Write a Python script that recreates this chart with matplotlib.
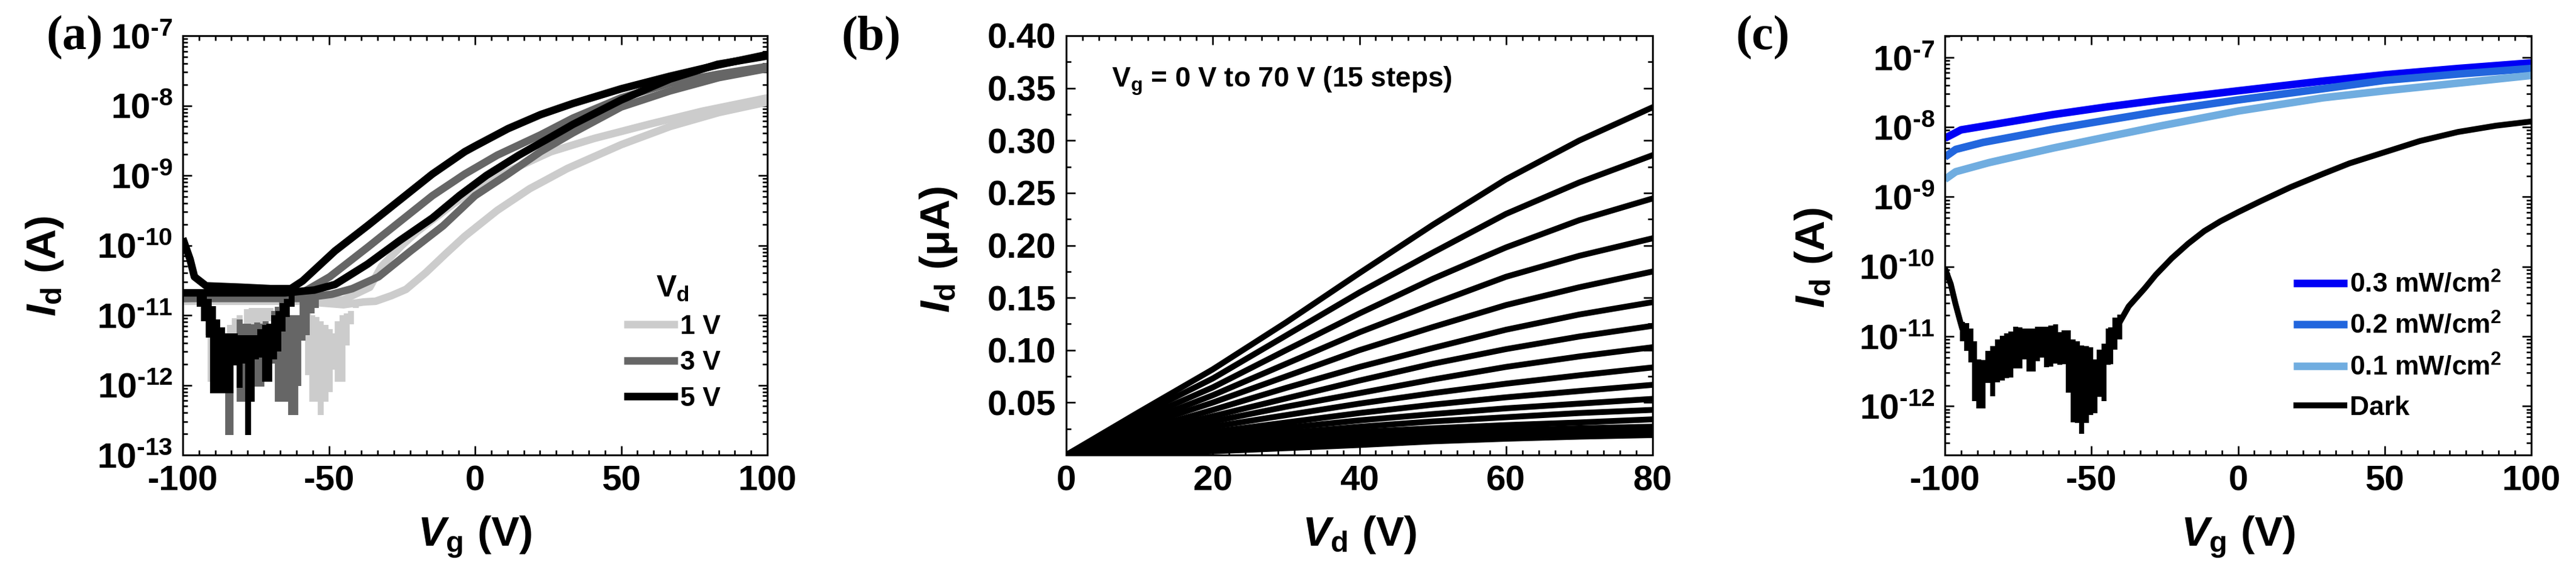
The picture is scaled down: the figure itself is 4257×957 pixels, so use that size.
import matplotlib
matplotlib.use('Agg')
import matplotlib.pyplot as plt
import numpy as np
from matplotlib.ticker import AutoMinorLocator, LogLocator, NullFormatter

plt.rcParams['font.family'] = ['Liberation Sans', 'DejaVu Sans']
plt.rcParams['font.weight'] = 'bold'
plt.rcParams['mathtext.fontset'] = 'custom'
plt.rcParams['mathtext.rm'] = 'Liberation Sans:bold'
plt.rcParams['mathtext.bf'] = 'Liberation Sans:bold'
plt.rcParams['mathtext.it'] = 'Liberation Sans:italic:bold'
plt.rcParams['mathtext.default'] = 'rm'

W, H = 4257, 957

# panel (a), log10(Id), two sweeps per Vd
vg_1v_a = [-100, -60, -45, -38, -34, -28.6, -23.6, -16.8, -10, -3.5, 7.6, 18.7, 31.6, 50, 66.7, 83.4, 100]
id_1v_a = [-10.8, -10.8, -10.85, -10.81, -10.8, -10.72, -10.63, -10.39, -10.12, -9.87, -9.5, -9.19, -8.9, -8.56, -8.3, -8.1, -7.95]
vg_1v_b = [-100, -60, -45, -36, -32, -25, -19.7, -7.2, 3.9, 15, 26, 40.8, 59.3, 77.8, 100]
id_1v_b = [-10.8, -10.78, -10.78, -10.6, -10.3, -10.0, -9.8, -9.4, -9.08, -8.87, -8.66, -8.47, -8.27, -8.08, -7.89]

vg_3v_a = [-100, -60, -49, -42, -33, -22, -10.9, 0, 11.3, 22.4, 33.5, 50, 66.7, 83.4, 100]
id_3v_a = [-10.76, -10.76, -10.7, -10.62, -10.45, -10.08, -9.72, -9.29, -8.98, -8.66, -8.39, -8.02, -7.79, -7.6, -7.47]
vg_3v_b = [-100, -60, -49.7, -36.8, -25.7, -14.6, -3.5, 7.6, 22.4, 33.5, 50, 66.7, 83.4, 100]
id_3v_b = [-10.76, -10.7, -10.45, -10.03, -9.66, -9.29, -8.98, -8.71, -8.42, -8.18, -7.89, -7.68, -7.55, -7.44]

vg_5v_a = [-100, -65, -55, -47.9, -36.8, -25.7, -14.6, -5.4, 3.9, 15, 26, 33.5, 50, 66.7, 83, 100]
id_5v_a = [-10.68, -10.68, -10.64, -10.56, -10.27, -9.93, -9.61, -9.29, -9.0, -8.71, -8.45, -8.27, -7.92, -7.62, -7.41, -7.29]
vg_5v_b = [-100, -97.5, -96, -92, -80, -70, -63, -59, -47.9, -36.8, -25.7, -14.6, -3.5, 0, 11.3, 22.4, 33.5, 50, 66.7, 83, 100]
id_5v_b = [-9.9, -10.2, -10.45, -10.58, -10.6, -10.62, -10.62, -10.51, -10.08, -9.72, -9.35, -8.98, -8.66, -8.58, -8.33, -8.13, -7.97, -7.76, -7.58, -7.42, -7.27]

# noise in the off state: top and bottom of each burst, log10(Id)
burst_1v_x = [-91.4, -90.4, -83.9, -82.2, -80.5, -78.1, -76.4, -75, -73.3, -71.6, -69.9, -57.2, -55.7, -54.2, -52.7, -51.2, -49.7, -48.6, -46.9, -45.4, -43.8, -42.5, -40.8]
burst_1v_hi = [-10.94, -11.23, -11.14, -11.04, -11, -10.91, -10.9, -10.9, -10.9, -10.9, -10.9, -10.97, -11, -11.03, -11.09, -11.14, -11.2, -11.26, -11.09, -11, -10.97, -10.94, -10.8]
burst_1v_lo = [-11.29, -11.95, -11.26, -11.26, -11.23, -11.14, -11.14, -11.14, -11.14, -11.12, -11.09, -11.86, -12.24, -12.24, -12.43, -12.24, -12.1, -11.78, -11.95, -11.95, -11.43, -11.13, -10.9]

burst_3v_x = [-84.5, -83.6, -80.6, -79.1, -77.6, -76.1, -74.6, -73.1, -71.6, -68.8, -67.5, -66, -64.5, -62.9, -61.4, -60.5, -59, -57.5, -56, -54.5]
burst_3v_hi = [-12.07, -12.07, -11.06, -11.12, -11.12, -11.13, -11.1, -11.12, -11.09, -10.94, -10.88, -10.8, -10.78, -11.0, -11.0, -11.0, -10.8, -10.77, -10.74, -10.74]
burst_3v_lo = [-12.71, -12.71, -12.24, -12.24, -11.4, -11.43, -12.02, -12.02, -11.63, -11.69, -12.24, -12.24, -12.24, -12.43, -12.43, -12.01, -11.36, -11.29, -10.97, -10.9]

burst_5v_x = [-94.2, -92.7, -91.2, -89.7, -88.2, -86.6, -85.1, -83.6, -82.1, -80.6, -79.1, -77.7, -76.4, -74.9, -73.4, -71.8, -70.3, -68.8, -67.3, -65.8, -64.3, -62.8]
burst_5v_hi = [-10.65, -10.71, -10.77, -10.87, -11.06, -11.17, -11.26, -11.26, -11.26, -11.29, -11.29, -11.29, -11.29, -11.29, -11.2, -11.14, -11.12, -11.0, -10.94, -10.83, -10.77, -10.71]
burst_5v_lo = [-10.88, -11.09, -11.32, -12.12, -12.12, -12.12, -12.12, -12.12, -11.72, -12.04, -11.69, -12.71, -12.24, -11.63, -11.61, -11.95, -11.95, -11.63, -11.52, -11.23, -11.03, -10.88]

ticks_a_x = [-100, -50, 0, 50, 100]
labels_a_x = ['-100', '-50', '0', '50', '100']
exps_a = [-13, -12, -11, -10, -9, -8, -7]

# panel (b), one row per gate step, top curve first
vd_b = [0, 10, 20, 30, 40, 50, 60, 70, 80]
id_steps = [
    [0, .0412, .0817, .1265, .1735, .2195, .263, .300, .3317],
    [0, .038, .073, .114, .155, .193, .230, .260, .286],
    [0, .034, .0645, .100, .135, .168, .198, .224, .2447],
    [0, .030, .057, .087, .117, .144, .170, .190, .2067],
    [0, .027, .050, .075, .100, .122, .143, .160, .175],
    [0, .023, .043, .064, .084, .102, .1195, .134, .1458],
    [0, .020, .037, .054, .071, .087, .101, .113, .1232],
    [0, .017, .032, .046, .059, .072, .084, .094, .1028],
    [0, .0145, .027, .038, .049, .059, .068, .076, .0835],
    [0, .012, .022, .031, .040, .048, .055, .061, .0669],
    [0, .010, .018, .026, .033, .039, .0445, .049, .0535],
    [0, .008, .0145, .021, .027, .032, .036, .040, .043],
    [0, .006, .011, .017, .022, .0255, .0285, .031, .034],
    [0, .0045, .008, .013, .0175, .021, .0235, .0255, .027],
    [0, .003, .0055, .0095, .0135, .017, .0195, .021, .0225],
    [0, .0018, .0035, .0065, .0095, .013, .0155, .0175, .019],
]
ticks_b_x = [0, 20, 40, 60, 80]
ticks_b_y = [0.05, 0.10, 0.15, 0.20, 0.25, 0.30, 0.35, 0.40]
labels_b_y = ['0.05', '0.10', '0.15', '0.20', '0.25', '0.30', '0.35', '0.40']

# panel (c)
vg_p3 = [-100, -94.5, -81.6, -63, -44.7, -26.3, 0, 29, 50, 75, 100]
id_p3 = [-8.16, -8.04, -7.95, -7.82, -7.71, -7.61, -7.48, -7.34, -7.25, -7.16, -7.08]
vg_p2 = [-100, -96.3, -87, -63, -44.7, -26, 0, 29, 50, 75, 100]
id_p2 = [-8.43, -8.32, -8.22, -8.03, -7.9, -7.77, -7.61, -7.45, -7.33, -7.24, -7.16]
vg_p1 = [-100, -96.3, -85, -63, -44.7, -26, 0, 29, 50, 75, 100]
id_p1 = [-8.75, -8.64, -8.51, -8.3, -8.14, -7.98, -7.77, -7.58, -7.48, -7.37, -7.26]
vg_dark_left = [-100, -98, -96.4, -95, -94]
id_dark_left = [-10.02, -10.25, -10.53, -10.75, -10.9]
vg_dark = [-40.4, -37.3, -31.8, -28.1, -22.6, -17, -11.5, -6, 0, 7.8, 18, 29, 38, 50, 62, 75, 88, 100]
id_dark = [-10.8, -10.57, -10.31, -10.12, -9.88, -9.67, -9.49, -9.35, -9.22, -9.06, -8.86, -8.67, -8.52, -8.36, -8.2, -8.07, -7.98, -7.92]
burst_dark_x = [-94, -92.6, -91.1, -89.9, -88.4, -87, -85.4, -83.6, -82, -80.4, -78.9, -77.4, -75.9, -74.4, -72.9, -71.4, -69.9, -68.4, -66.8, -65.3, -63.8, -62.3, -60.8, -59.3, -57.8, -56.3, -54.8, -53.3, -51.8, -50.3, -48.8, -47.3, -45.8, -44.2, -43.4, -41.9, -40.4]
burst_dark_hi = [-10.79, -10.81, -10.89, -11.07, -11.33, -11.34, -11.21, -11.14, -11.04, -10.99, -10.96, -10.93, -10.86, -10.87, -10.89, -10.89, -10.89, -10.86, -10.86, -10.86, -10.84, -10.83, -10.94, -10.91, -10.91, -11.04, -11.07, -11.13, -11.14, -11.16, -11.33, -11.19, -11.1, -10.89, -10.87, -10.73, -10.69]
burst_dark_lo = [-11.07, -11.21, -11.37, -11.93, -12.03, -12.03, -11.67, -11.86, -11.66, -11.63, -11.6, -11.59, -11.46, -11.46, -11.33, -11.5, -11.5, -11.36, -11.3, -11.44, -11.43, -11.39, -11.41, -11.4, -11.81, -12.23, -12.24, -12.4, -12.24, -12.13, -12.1, -11.87, -11.93, -11.41, -11.4, -11.19, -11.04]
labels_c = ['0.3 mW/cm$^{2}$', '0.2 mW/cm$^{2}$', '0.1 mW/cm$^{2}$', 'Dark']
colors_c = ['#0000f5', '#2266dd', '#70ade0', '#000000']
exps_c = [-12, -11, -10, -9, -8, -7]


def add_panel(x0, x1, y0=59, y1=752):
    return fig.add_axes([x0 / W, 1 - y1 / H, (x1 - x0) / W, (y1 - y0) / H])


def style_ticks(ax):
    ax.tick_params(which='both', direction='in', top=True, right=True, width=1.9)
    ax.tick_params(which='major', length=11, labelsize=42, pad=12)
    ax.tick_params(which='minor', length=5.5)
    for s in ax.spines.values():
        s.set_linewidth(2.2)


def set_log_y(ax, exps, ylim):
    ax.set_yscale('log')
    ax.set_ylim(ylim)
    ax.set_yticks([10.0 ** e for e in exps], labels=[r'$10^{\text{-%d}}$' % abs(e) for e in exps])
    ax.yaxis.set_minor_locator(LogLocator(base=10, subs=np.arange(2, 10), numticks=20))
    ax.yaxis.set_minor_formatter(NullFormatter())


def curve(ax, x, log_y, color, lw, label=None):
    ax.plot(x, 10.0 ** np.array(log_y), color=color, lw=lw, label=label, solid_joinstyle='round', solid_capstyle='butt')


def burst(ax, x, hi, lo, color, lw):
    ax.vlines(x, 10.0 ** np.array(lo), 10.0 ** np.array(hi), color=color, lw=lw)


fig = plt.figure(figsize=(W / 100, H / 100), dpi=100)

# (a)
ax = add_panel(302, 1268)
burst(ax, burst_1v_x, burst_1v_hi, burst_1v_lo, '#cccccc', 7)
curve(ax, vg_1v_a, id_1v_a, '#cccccc', 9)
curve(ax, vg_1v_b, id_1v_b, '#cccccc', 9, '1 V')
burst(ax, burst_3v_x, burst_3v_hi, burst_3v_lo, '#666666', 7)
curve(ax, vg_3v_a, id_3v_a, '#666666', 9)
curve(ax, vg_3v_b, id_3v_b, '#666666', 9, '3 V')
burst(ax, burst_5v_x, burst_5v_hi, burst_5v_lo, 'black', 7)
curve(ax, vg_5v_a, id_5v_a, 'black', 9)
curve(ax, vg_5v_b, id_5v_b, 'black', 9, '5 V')
ax.set_xlim(-100, 100)
ax.set_xticks(ticks_a_x, labels=labels_a_x)
ax.xaxis.set_minor_locator(AutoMinorLocator(9))
set_log_y(ax, exps_a, (1e-13, 1e-7))
style_ticks(ax)
ax.set_xlabel(r'$\mathit{V}_{\mathrm{g}}\ \mathrm{(V)}$', fontsize=50, labelpad=20)
ax.set_ylabel(r'$\mathit{I}_{\mathrm{d}}\ \mathrm{(A)}$', fontsize=50)
ax.yaxis.set_label_coords((108 - 302) / 966, 0.45)
ax.legend(loc='lower left', bbox_to_anchor=((1031 - 302) / 966, (752 - 680) / 693), frameon=False, fontsize=32,
          handlelength=2.0, handletextpad=0.1, labelspacing=0.42, borderpad=0, borderaxespad=0,
          title=r'$\mathrm{V_{d}}$', title_fontsize=36)
fig.text(76 / W, 1 - 82 / H, '(a)', family='Liberation Serif', weight='bold', fontsize=58)

# (b)
ax = add_panel(1762, 2731)
for row in id_steps:
    ax.plot(vd_b, row, color='black', lw=7, solid_joinstyle='round')
ax.set_xlim(0, 80)
ax.set_ylim(0, 0.40)
ax.set_xticks(ticks_b_x)
ax.set_yticks(ticks_b_y, labels=labels_b_y)
ax.xaxis.set_minor_locator(AutoMinorLocator(9))
ax.yaxis.set_minor_locator(AutoMinorLocator(2))
style_ticks(ax)
ax.set_xlabel(r'$\mathit{V}_{\mathrm{d}}\ \mathrm{(V)}$', fontsize=50, labelpad=20)
ax.set_ylabel(r'$\mathit{I}_{\mathrm{d}}\ \mathrm{(\mu A)}$', fontsize=50)
ax.yaxis.set_label_coords((1585 - 1762) / 969, 0.49)
ax.text((1837 - 1762) / 969, 1 - (143 - 59) / 693, r'$\mathrm{V_{g}}$ = 0 V to 70 V (15 steps)', fontsize=33, va='baseline', transform=ax.transAxes)
fig.text(1391 / W, 1 - 82 / H, '(b)', family='Liberation Serif', weight='bold', fontsize=58)

# (c)
ax = add_panel(3214, 4183)
curve(ax, vg_p3, id_p3, colors_c[0], 9, labels_c[0])
curve(ax, vg_p2, id_p2, colors_c[1], 9, labels_c[1])
curve(ax, vg_p1, id_p1, colors_c[2], 9, labels_c[2])
burst(ax, burst_dark_x, burst_dark_hi, burst_dark_lo, colors_c[3], 6)
curve(ax, vg_dark_left, id_dark_left, colors_c[3], 7)
curve(ax, vg_dark, id_dark, colors_c[3], 7, labels_c[3])
ax.set_xlim(-100, 100)
ax.set_xticks(ticks_a_x, labels=labels_a_x)
ax.xaxis.set_minor_locator(AutoMinorLocator(9))
set_log_y(ax, exps_c, (10.0 ** -12.7, 10.0 ** -6.69))
style_ticks(ax)
ax.set_xlabel(r'$\mathit{V}_{\mathrm{g}}\ \mathrm{(V)}$', fontsize=50, labelpad=20)
ax.set_ylabel(r'$\mathit{I}_{\mathrm{d}}\ \mathrm{(A)}$', fontsize=50)
ax.yaxis.set_label_coords((3031 - 3214) / 969, 0.47)
ax.legend(loc='lower left', bbox_to_anchor=((3790 - 3214) / 969, (752 - 695) / 693), frameon=False, fontsize=32,
          handlelength=2.0, handletextpad=0.1, labelspacing=0.55, borderpad=0, borderaxespad=0)
fig.text(2868 / W, 1 - 82 / H, '(c)', family='Liberation Serif', weight='bold', fontsize=58)

fig.savefig('out.png', dpi=100)
